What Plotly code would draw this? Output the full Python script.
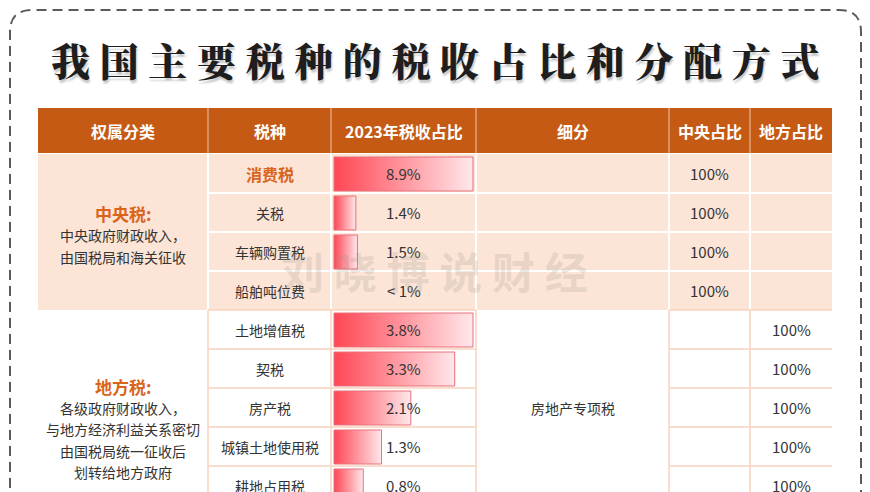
import plotly.graph_objects as go

# ---- data ----
title = "我国主要税种的税收占比和分配方式"
watermark = "刘晓博说财经"
headers = ["权属分类", "税种", "2023年税收占比", "细分", "中央占比", "地方占比"]

central_name = "中央税:"
central_desc = ["中央政府财政收入，", "由国税局和海关征收"]
central_taxes = ["消费税", "关税", "车辆购置税", "船舶吨位费"]
central_share = [8.9, 1.4, 1.5, None]
central_share_text = ["8.9%", "1.4%", "1.5%", "< 1%"]
central_pct = ["100%", "100%", "100%", "100%"]

local_name = "地方税:"
local_desc = ["各级政府财政收入，", "与地方经济利益关系密切", "由国税局统一征收后", "划转给地方政府"]
local_taxes = ["土地增值税", "契税", "房产税", "城镇土地使用税", "耕地占用税"]
local_share = [3.8, 3.3, 2.1, 1.3, 0.8]
local_share_text = ["3.8%", "3.3%", "2.1%", "1.3%", "0.8%"]
local_detail = "房地产专项税"
local_pct = ["100%", "100%", "100%", "100%", "100%"]

# ---- layout geometry (page pixels) ----
W, H = 870, 492
OFF = 8  # default body margin of the html page
COL = [38, 208, 331, 476, 669, 750, 832]
HEAD_TOP, HEAD_BOT = 108, 153
ROW_H = 39
C_TOP = 154
L_TOP = 310
BAR_PAD = 3

FONT = "Noto Sans CJK SC"
HEAD_BG = "#C55A14"
PEACH = "#FCE4D6"
PEACH_LINE = "#F8D3BC"
ORANGE = "#D9651C"
TEXT = "#333333"


def mid(a, b):
    return (a + b) / 2


shapes = []
annotations = []


def rect(x0, y0, x1, y1, fill):
    shapes.append(dict(type="rect", xref="x", yref="y", x0=x0, y0=y0, x1=x1, y1=y1,
                       fillcolor=fill, line=dict(width=0), layer="below"))


def line(x0, y0, x1, y1, color, width=1.5):
    shapes.append(dict(type="line", xref="x", yref="y", x0=x0, y0=y0, x1=x1, y1=y1,
                       line=dict(color=color, width=width), layer="below"))


def text(x, y, s, size=14, color=TEXT, weight="normal", family=FONT, **kw):
    annotations.append(dict(x=x, y=y, xref="x", yref="y", text=s, showarrow=False,
                            xanchor="center", yanchor="middle",
                            font=dict(family=family, size=size, color=color, weight=weight, **kw)))


# dashed outer frame with rounded top corners
shapes.append(dict(type="path", xref="x", yref="y",
                   path="M 10,520 L 10,32 Q 10,10 32,10 L 839,10 Q 861,10 861,32 L 861,520",
                   line=dict(color="#5a5a5a", width=2, dash="10px,6px")))

# title
text(435, 59, " ".join(title), size=39, color="#1e1e1e", weight=900,
     family="Noto Serif CJK SC, Noto Sans CJK SC", shadow="1px 3px 2px rgba(0,0,0,0.22)")

# header
rect(COL[0], HEAD_TOP, COL[-1], HEAD_BOT, HEAD_BG)
for x in COL[1:-1]:
    line(x, HEAD_TOP, x, HEAD_BOT, "rgba(255,255,255,0.55)", 1.2)
for i, h in enumerate(headers):
    text(mid(COL[i], COL[i + 1]), mid(HEAD_TOP, HEAD_BOT), h, size=16, color="white", weight="bold")

# central block
c_bot = C_TOP + ROW_H * len(central_taxes)
rect(COL[0], C_TOP, COL[-1], c_bot, PEACH)
for x in COL[1:-1]:
    line(x, C_TOP, x, c_bot, "white", 2)
for i in range(1, len(central_taxes)):
    y = C_TOP + ROW_H * i
    line(COL[1], y, COL[-1], y, "white", 2)

c_title_y = 213
text(mid(COL[0], COL[1]), c_title_y, central_name, size=17, color=ORANGE, weight="bold")
for k, s in enumerate(central_desc):
    text(mid(COL[0], COL[1]), c_title_y + 22 * (k + 1), s, size=14)

for i, name in enumerate(central_taxes):
    yc = C_TOP + ROW_H * i + ROW_H / 2
    if i == 0:
        text(mid(COL[1], COL[2]), yc, name, size=16, color=ORANGE, weight="bold")
    else:
        text(mid(COL[1], COL[2]), yc, name, size=14)
    text(mid(COL[2], COL[3]), yc, central_share_text[i], size=15)
    text(mid(COL[4], COL[5]), yc, central_pct[i], size=15)

# local block
l_bot = L_TOP + ROW_H * len(local_taxes)
rect(COL[0], L_TOP, COL[-1], l_bot, "white")
for x in COL[1:-1]:
    line(x, L_TOP, x, l_bot + 20, PEACH_LINE, 1.5)
for i in range(len(local_taxes) + 1):
    y = L_TOP + ROW_H * i
    line(COL[1], y, COL[3], y, PEACH_LINE, 1.5)
    line(COL[4], y, COL[-1], y, PEACH_LINE, 1.5)

l_title_y = 386
text(mid(COL[0], COL[1]), l_title_y, local_name, size=17, color=ORANGE, weight="bold")
for k, s in enumerate(local_desc):
    text(mid(COL[0], COL[1]), l_title_y + 21.5 * (k + 1), s, size=14)

for i, name in enumerate(local_taxes):
    yc = L_TOP + ROW_H * i + ROW_H / 2
    text(mid(COL[1], COL[2]), yc, name, size=14)
    text(mid(COL[2], COL[3]), yc, local_share_text[i], size=15)
    text(mid(COL[5], COL[6]), yc, local_pct[i], size=15)
text(mid(COL[3], COL[4]), mid(L_TOP, l_bot), local_detail, size=14)

# watermark
text(434, 270, " ".join(watermark), size=43, color="rgba(150,140,135,0.2)", weight="bold")

fig = go.Figure()

# data bars: each group scaled to its own maximum (Excel-style data bars)
bar_w = COL[3] - COL[2] - 2 * BAR_PAD


def add_bars(values, top, axis):
    for i, v in enumerate(values):
        if v is None:
            continue
        y0 = top + ROW_H * i + 3
        y1 = top + ROW_H * (i + 1) - 2
        fig.add_trace(go.Scatter(
            x=[0, v, v, 0, 0], y=[y0, y0, y1, y1, y0], xaxis=axis, yaxis="y",
            mode="lines", fill="toself", fillcolor="#ff8a93",
            fillgradient=dict(type="horizontal", start=0, stop=v,
                              colorscale=[[0, "#FF4654"], [0.55, "#FF9EA6"], [1, "#FFE8EB"]]),
            line=dict(color="#E8707A", width=1), hoverinfo="skip", showlegend=False))


add_bars(central_share, C_TOP, "x2")
add_bars(local_share, L_TOP, "x3")

g_c = max(v for v in central_share if v is not None)
g_l = max(local_share)
fw, fh = W - OFF, H - OFF
dom = [(COL[2] - OFF) / fw, (COL[3] - OFF) / fw]

fig.update_layout(
    width=fw, height=fh, margin=dict(l=0, r=0, t=0, b=0),
    paper_bgcolor="white", plot_bgcolor="rgba(0,0,0,0)",
    xaxis=dict(range=[OFF, W], visible=False, fixedrange=True),
    yaxis=dict(range=[H, OFF], visible=False, fixedrange=True),
    xaxis2=dict(domain=dom, anchor="y", visible=False, fixedrange=True,
                range=[-g_c * BAR_PAD / bar_w, g_c * (bar_w + BAR_PAD) / bar_w]),
    xaxis3=dict(domain=dom, anchor="y", visible=False, fixedrange=True,
                range=[-g_l * BAR_PAD / bar_w, g_l * (bar_w + BAR_PAD) / bar_w]),
    shapes=shapes, annotations=annotations, showlegend=False,
)

fig.write_html("out.html")
